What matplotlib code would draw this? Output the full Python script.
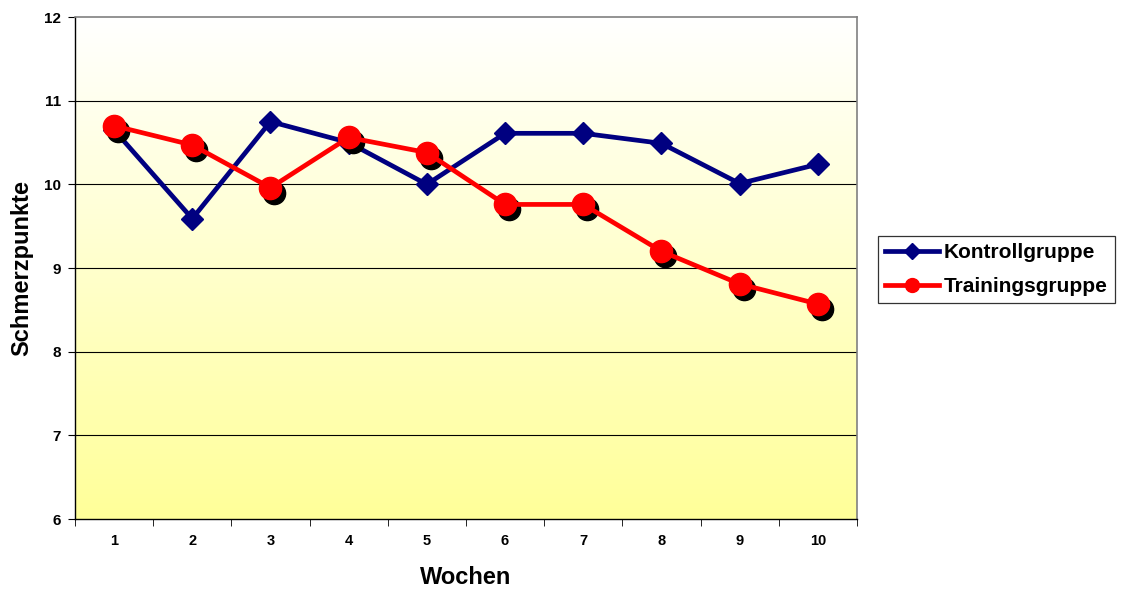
import numpy as np
import matplotlib.pyplot as plt
import matplotlib.transforms as mtransforms
from matplotlib.lines import Line2D
from matplotlib.colors import LinearSegmentedColormap

plt.rcParams['font.family'] = ['Liberation Sans', 'DejaVu Sans']

# --- DATA ---
wochen = [1, 2, 3, 4, 5, 6, 7, 8, 9, 10]
kontrollgruppe = [10.65, 9.59, 10.75, 10.50, 10.00, 10.61, 10.61, 10.49, 10.01, 10.24]
trainingsgruppe = [10.70, 10.47, 9.96, 10.56, 10.38, 9.76, 9.76, 9.20, 8.81, 8.57]
y_ticks = [6, 7, 8, 9, 10, 11, 12]

fig = plt.figure(figsize=(11.29, 5.91), dpi=100)
ax = fig.add_axes([0.0664, 0.1218, 0.6926, 0.8494])

x = np.arange(1, len(wochen) + 1)

# background gradient white (top) -> pale yellow (bottom)
cmap = LinearSegmentedColormap.from_list('bg', ['#FFFF99', '#FFFFFF'])
grad = np.linspace(0, 1, 256).reshape(-1, 1)
ax.imshow(grad, cmap=cmap, origin='lower', aspect='auto',
          extent=[0.5, 10.5, 6, 12], zorder=0)

ax.set_xlim(0.5, 10.5)
ax.set_ylim(6, 12)

for yv in y_ticks[1:-1]:
    ax.axhline(yv, color='black', lw=0.8, zorder=1)

# Kontrollgruppe
ax.plot(x, kontrollgruppe, color='#000080', lw=3.4, marker='D', ms=11,
        mec='#000080', mfc='#000080', zorder=3)

# Trainingsgruppe with shadowed markers
shadow = mtransforms.offset_copy(ax.transData, fig=fig, x=4, y=-5, units='dots')
ax.plot(x, trainingsgruppe, ls='none', marker='o', ms=16, mfc='black',
        mec='black', transform=shadow, zorder=4)
ax.plot(x, trainingsgruppe, color='#FF0000', lw=3.4, zorder=5)
ax.plot(x, trainingsgruppe, ls='none', marker='o', ms=16, mfc='#FF0000',
        mec='#FF0000', zorder=6)

# axes and ticks
ax.set_xticks(x)
ax.set_xticklabels([str(w) for w in wochen], fontsize=10.5, fontweight='bold')
ax.set_xticks(np.arange(0.5, 11, 1), minor=True)
ax.tick_params(axis='x', which='major', length=0, pad=11)
ax.tick_params(axis='x', which='minor', length=5, direction='out', color='black')
ax.set_yticks(y_ticks)
ax.set_yticklabels([str(v) for v in y_ticks], fontsize=11, fontweight='bold')
ax.tick_params(axis='y', length=5, direction='out', pad=5)

for side in ['top', 'right']:
    ax.spines[side].set_color('#808080')
    ax.spines[side].set_linewidth(1.2)
for side in ['left', 'bottom']:
    ax.spines[side].set_color('black')
    ax.spines[side].set_linewidth(1.0)

fig.text(466 / 1129, 1 - 578 / 591, 'Wochen', fontsize=17, fontweight='bold',
         ha='center', va='center')
fig.text(22 / 1129, 1 - 268 / 591, 'Schmerzpunkte', fontsize=17, fontweight='bold',
         ha='center', va='center', rotation=90)

handles = [
    Line2D([], [], color='#000080', lw=3.4, marker='D', ms=8,
           mfc='#000080', mec='#000080'),
    Line2D([], [], color='#FF0000', lw=3.4, marker='o', ms=10,
           mfc='#FF0000', mec='#FF0000'),
]
leg = ax.legend(handles, ['Kontrollgruppe', 'Trainingsgruppe'],
                loc='center left', bbox_to_anchor=(1.027, 0.497), frameon=True,
                fancybox=False, edgecolor='black',
                prop={'weight': 'bold', 'size': 15}, handlelength=2.6,
                numpoints=1, borderpad=0.35, labelspacing=0.7,
                handletextpad=0.2, borderaxespad=0)
leg.get_frame().set_linewidth(0.9)

fig.savefig('out.png', dpi=100, facecolor='white')
